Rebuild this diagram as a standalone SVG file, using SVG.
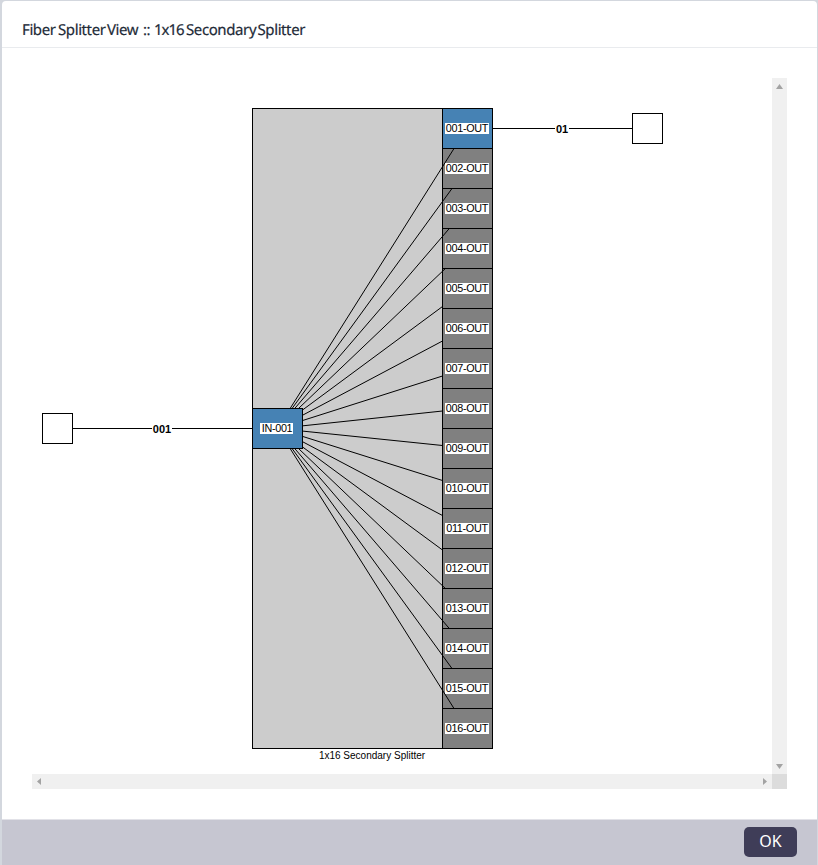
<svg xmlns="http://www.w3.org/2000/svg" width="818" height="865" viewBox="0 0 818 865">
<style>
.box{stroke:#000;stroke-width:1}
.blue{fill:#4682b4}
.gray{fill:#808080}
.end{fill:#fff;stroke:#000;stroke-width:1}
.wire{stroke:#000;stroke-width:1;fill:none}
.bar{fill:#f0f0f0}
.arrow{fill:#a3a3a3}
.lbg{fill:#fff}
text{font-family:"Liberation Sans",Arial,sans-serif;font-size:10px;fill:#000;text-anchor:middle}
.p{font-size:10.8px;letter-spacing:-0.3px}
.b{font-weight:bold;font-size:11px}
.title{font-family:"Noto Sans",sans-serif;font-size:15px;fill:#232b38;stroke:#232b38;stroke-width:.2px;text-anchor:start;letter-spacing:-0.4px;text-rendering:geometricPrecision}
</style>
<rect width="818" height="865" fill="#d3d7de"/>
<rect x="2" y="1" width="815" height="864" rx="4" fill="#fff"/>
<path d="M2 819.500H817V865H2Z" fill="#c6c6d1"/>
<path d="M2 47.500H817" stroke="#e9ebee" stroke-width="1"/>
<text class="title" y="35"><tspan x="22">Fiber</tspan> <tspan x="58">Splitter</tspan> <tspan x="107">View</tspan> <tspan x="143">::</tspan> <tspan x="154" style="letter-spacing:-1px">1x16</tspan> <tspan x="186">Secondary</tspan> <tspan x="257.500">Splitter</tspan></text>
<rect x="744" y="827" width="53" height="30" rx="5" fill="#3f3d58"/>
<text x="770.500" y="847" style="font-family:'Noto Sans',sans-serif;font-size:16px;fill:#fff">OK</text>
<rect class="bar" x="772" y="78" width="15" height="696"/>
<rect class="bar" x="32" y="774" width="740" height="15"/>
<rect x="772" y="774" width="15" height="15" fill="#dcdcdc"/>
<path class="arrow" d="M776 89L779.500 84L783 89Z"/>
<path class="arrow" d="M776 764L779.500 769L783 764Z"/>
<path class="arrow" d="M41 778L37 781.500L41 785Z"/>
<path class="arrow" d="M763 778L767 781.500L763 785Z"/>
<g id="splitter"><rect class="box" x="252.500" y="108.500" width="240" height="640" fill="#ccc"/><text x="372" y="759">1x16 Secondary Splitter</text></g>
<g id="out-001"><rect class="box blue" x="442.500" y="108.500" width="50" height="40"/><rect class="lbg" x="445" y="123" width="44" height="11"/><text class="p" x="467" y="132">001-OUT</text></g>
<g id="out-002"><rect class="box gray" x="442.500" y="148.500" width="50" height="40"/><rect class="lbg" x="445" y="163" width="44" height="11"/><text class="p" x="467" y="172">002-OUT</text></g>
<g id="out-003"><rect class="box gray" x="442.500" y="188.500" width="50" height="40"/><rect class="lbg" x="445" y="203" width="44" height="11"/><text class="p" x="467" y="212">003-OUT</text></g>
<g id="out-004"><rect class="box gray" x="442.500" y="228.500" width="50" height="40"/><rect class="lbg" x="445" y="243" width="44" height="11"/><text class="p" x="467" y="252">004-OUT</text></g>
<g id="out-005"><rect class="box gray" x="442.500" y="268.500" width="50" height="40"/><rect class="lbg" x="445" y="283" width="44" height="11"/><text class="p" x="467" y="292">005-OUT</text></g>
<g id="out-006"><rect class="box gray" x="442.500" y="308.500" width="50" height="40"/><rect class="lbg" x="445" y="323" width="44" height="11"/><text class="p" x="467" y="332">006-OUT</text></g>
<g id="out-007"><rect class="box gray" x="442.500" y="348.500" width="50" height="40"/><rect class="lbg" x="445" y="363" width="44" height="11"/><text class="p" x="467" y="372">007-OUT</text></g>
<g id="out-008"><rect class="box gray" x="442.500" y="388.500" width="50" height="40"/><rect class="lbg" x="445" y="403" width="44" height="11"/><text class="p" x="467" y="412">008-OUT</text></g>
<g id="out-009"><rect class="box gray" x="442.500" y="428.500" width="50" height="40"/><rect class="lbg" x="445" y="443" width="44" height="11"/><text class="p" x="467" y="452">009-OUT</text></g>
<g id="out-010"><rect class="box gray" x="442.500" y="468.500" width="50" height="40"/><rect class="lbg" x="445" y="483" width="44" height="11"/><text class="p" x="467" y="492">010-OUT</text></g>
<g id="out-011"><rect class="box gray" x="442.500" y="508.500" width="50" height="40"/><rect class="lbg" x="445" y="523" width="44" height="11"/><text class="p" x="467" y="532">011-OUT</text></g>
<g id="out-012"><rect class="box gray" x="442.500" y="548.500" width="50" height="40"/><rect class="lbg" x="445" y="563" width="44" height="11"/><text class="p" x="467" y="572">012-OUT</text></g>
<g id="out-013"><rect class="box gray" x="442.500" y="588.500" width="50" height="40"/><rect class="lbg" x="445" y="603" width="44" height="11"/><text class="p" x="467" y="612">013-OUT</text></g>
<g id="out-014"><rect class="box gray" x="442.500" y="628.500" width="50" height="40"/><rect class="lbg" x="445" y="643" width="44" height="11"/><text class="p" x="467" y="652">014-OUT</text></g>
<g id="out-015"><rect class="box gray" x="442.500" y="668.500" width="50" height="40"/><rect class="lbg" x="445" y="683" width="44" height="11"/><text class="p" x="467" y="692">015-OUT</text></g>
<g id="out-016"><rect class="box gray" x="442.500" y="708.500" width="50" height="40"/><rect class="lbg" x="445" y="723" width="44" height="11"/><text class="p" x="467" y="732">016-OUT</text></g>
<g id="connectors">
<path class="wire" d="M277.500 428.500L454 148.500M277.500 428.500L452 188.500M277.500 428.500L449.300 228.500M277.500 428.500L445.400 268.500M277.500 428.500L442.500 306.500M277.500 428.500L442.500 341M277.500 428.500L442.500 376M277.500 428.500L442.500 411M277.500 428.500L442.500 445.500M277.500 428.500L442.500 480.500M277.500 428.500L442.500 515.500M277.500 428.500L442.500 550M277.500 428.500L445.400 588.500M277.500 428.500L449.300 628.500M277.500 428.500L452 668.500M277.500 428.500L454 708.500"/>
<path class="wire" d="M72.500 428.500H252.500M492.500 128.500H632.500"/>
<rect class="lbg" x="152" y="423" width="20" height="12"/>
<text class="b" x="162" y="433">001</text>
<rect class="lbg" x="555" y="123" width="14" height="12"/>
<text class="b" x="562" y="133">01</text>
</g>
<g id="in-001"><rect class="box blue" x="252.500" y="408.500" width="50" height="40"/><rect class="lbg" x="260" y="423" width="33" height="11"/><text class="p" x="277" y="432">IN-001</text></g>
<g id="end-left"><rect class="end" x="42.500" y="413.500" width="30" height="30"/></g>
<g id="end-right"><rect class="end" x="632.500" y="113.500" width="30" height="30"/></g>
</svg>
